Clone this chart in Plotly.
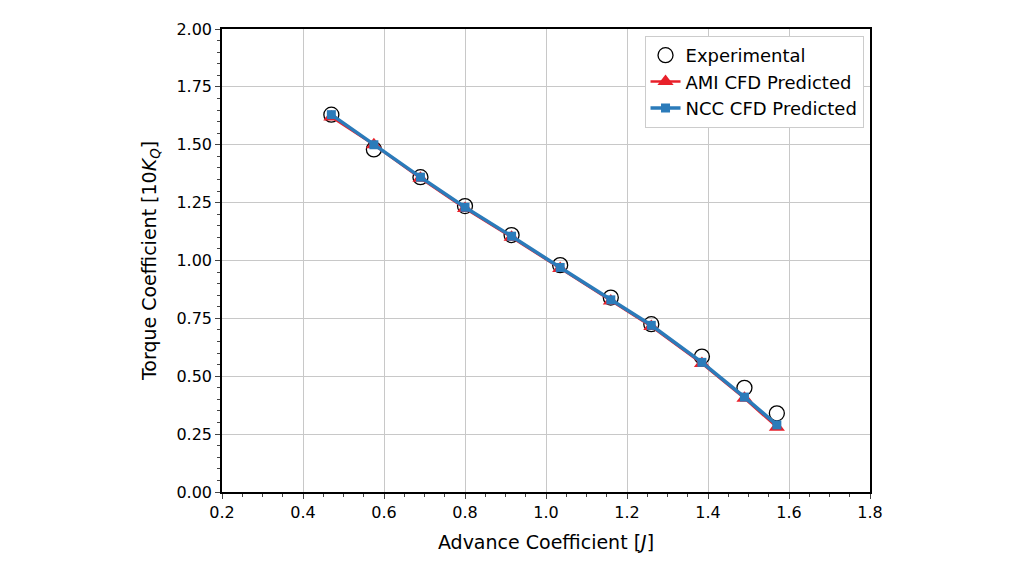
import plotly.graph_objects as go

J = [0.47, 0.575, 0.69, 0.80, 0.915, 1.035, 1.16, 1.26, 1.385, 1.49, 1.57]
exp_kq = [1.63, 1.48, 1.36, 1.235, 1.11, 0.98, 0.84, 0.725, 0.585, 0.45, 0.34]
ami_kq = [1.62, 1.50, 1.355, 1.225, 1.10, 0.965, 0.825, 0.715, 0.555, 0.405, 0.28]
ncc_kq = [1.63, 1.50, 1.36, 1.23, 1.105, 0.97, 0.83, 0.72, 0.56, 0.41, 0.29]

fig = go.Figure()
fig.add_trace(go.Scatter(x=J, y=exp_kq, mode='markers', name='Experimental',
                         marker=dict(symbol='circle-open', size=15, color='black', line=dict(width=1.3))))
fig.add_trace(go.Scatter(x=J, y=ami_kq, mode='lines+markers', name='AMI CFD Predicted',
                         line=dict(color='#e8202a', width=2.5),
                         marker=dict(symbol='triangle-up', size=14, color='#e8202a')))
fig.add_trace(go.Scatter(x=J, y=ncc_kq, mode='lines+markers', name='NCC CFD Predicted',
                         line=dict(color='#2b7bba', width=3.5),
                         marker=dict(symbol='square', size=9, color='#2b7bba')))

axis = dict(showline=True, linecolor='black', linewidth=1.5, mirror=True, ticks='outside',
            gridcolor='#c8c8c8', zeroline=False, tickfont=dict(size=16, color='black'))
fig.update_xaxes(axis, range=[0.2, 1.8], dtick=0.2, tickformat='.1f',
                 title=dict(text='Advance Coefficient [<i>J</i>]', font=dict(size=19, color='black')),
                 minor=dict(ticks='outside', dtick=0.05, ticklen=3, showgrid=False))
fig.update_yaxes(axis, range=[0, 2.0], dtick=0.25, tickformat='.2f',
                 title=dict(text='Torque Coefficient [10<i>K</i><sub><i>Q</i></sub>]', font=dict(size=19, color='black')),
                 minor=dict(ticks='outside', dtick=0.05, ticklen=3, showgrid=False))
fig.update_layout(width=1024, height=576, plot_bgcolor='white', paper_bgcolor='white',
                  font=dict(family='DejaVu Sans'),
                  margin=dict(l=214, r=162, t=12, b=92),
                  legend=dict(x=0.99, y=0.985, xanchor='right', yanchor='top',
                              bordercolor='#cccccc', borderwidth=1, font=dict(size=18, color='black')))
fig.write_html("out.html")
